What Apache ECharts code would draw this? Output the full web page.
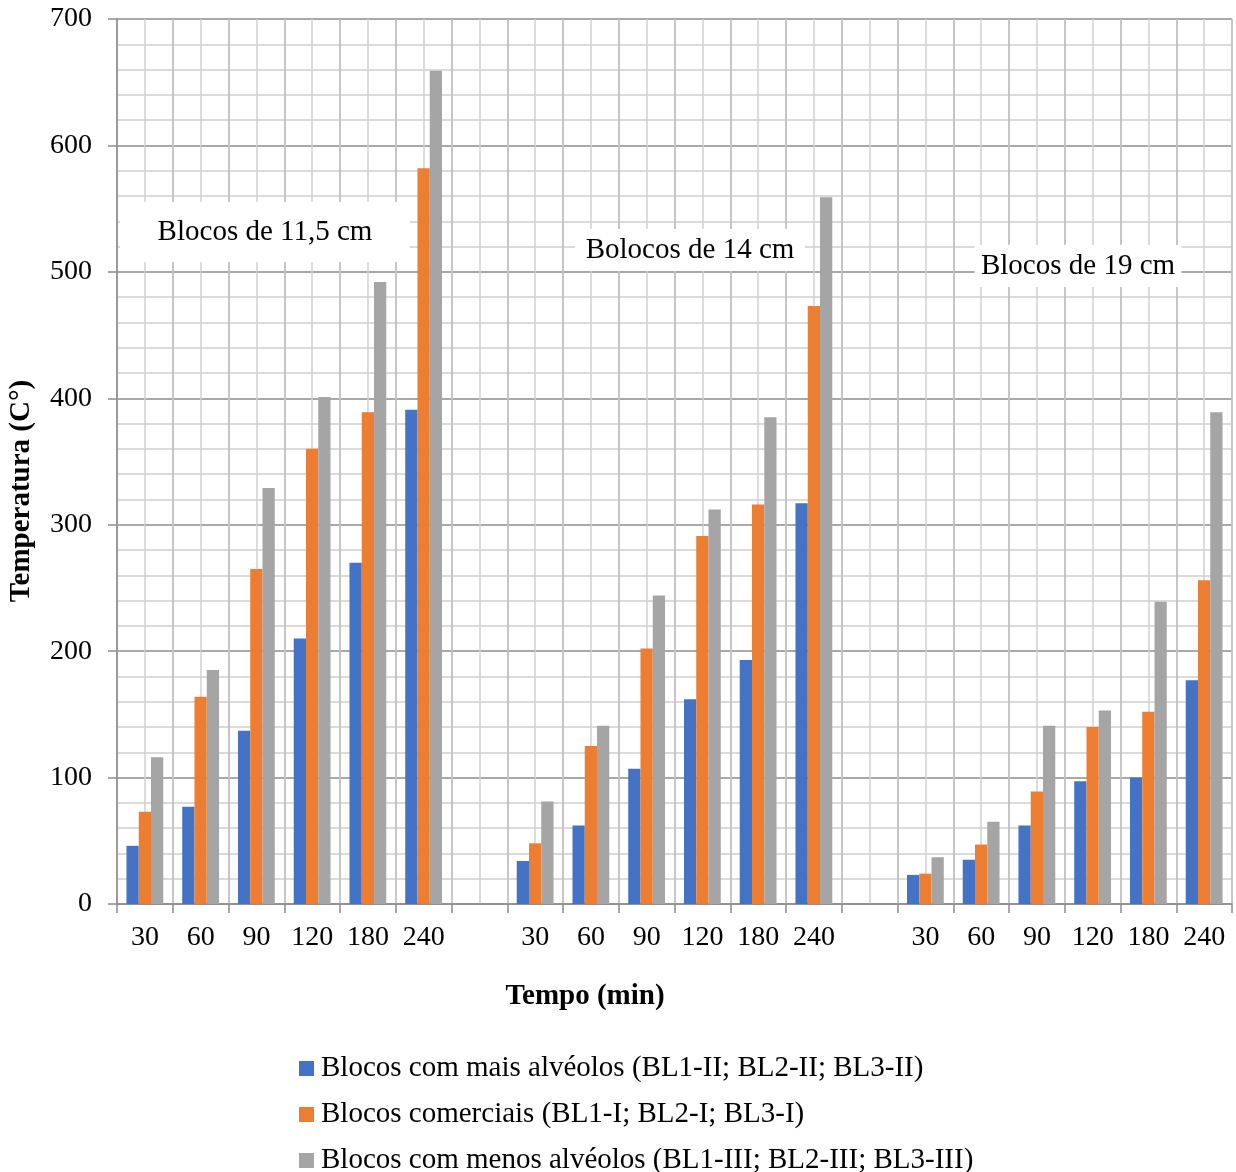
<!DOCTYPE html>
<html>
<head>
<meta charset="utf-8">
<script src="https://cdn.jsdelivr.net/npm/echarts@6/dist/echarts.min.js"></script>
<style>
html,body{margin:0;padding:0;background:#fff;}
#chart{width:1236px;height:1172px;}
</style>
</head>
<body>
<div id="chart"></div>
<script>
const categories = ['30','60','90','120','180','240','', '30','60','90','120','180','240','', '30','60','90','120','180','240'];
const maisAlveolos = [46, 77, 137, 210, 270, 391, null, 34, 62, 107, 162, 193, 317, null, 23, 35, 62, 97, 100, 177];
const comerciais   = [73, 164, 265, 360, 389, 582, null, 48, 125, 202, 291, 316, 473, null, 24, 47, 89, 140, 152, 256];
const menosAlveolos= [116, 185, 329, 401, 492, 659, null, 81, 141, 244, 312, 385, 559, null, 37, 65, 141, 153, 239, 389];
const seriesNames = ['Blocos com mais alvéolos (BL1-II; BL2-II; BL3-II)', 'Blocos comerciais (BL1-I; BL2-I; BL3-I)', 'Blocos com menos alvéolos (BL1-III; BL2-III; BL3-III)'];
const groupLabels = ['Blocos de 11,5 cm', 'Bolocos de 14 cm', 'Blocos de 19 cm'];
const yTicks = {min: 0, max: 700, interval: 100};

const FONT = '"Liberation Serif", "Times New Roman", serif';
const colors = ['#4472C4', '#ED7D31', '#A5A5A5'];

const chart = echarts.init(document.getElementById('chart'));

function box(cx, cy, w, h, txt) {
  return {
    type: 'group',
    children: [
      {type: 'rect', shape: {x: cx - w/2, y: cy - h/2, width: w, height: h}, style: {fill: '#fff'}, z: 10},
      {type: 'text', x: cx, y: cy, style: {text: txt, font: '29px ' + FONT, fill: '#000', textAlign: 'center', textVerticalAlign: 'middle'}, z: 11}
    ]
  };
}

chart.setOption({
  animation: false,
  backgroundColor: '#fff',
  color: colors,
  grid: {left: 117, right: 4, top: 19, bottom: 268, containLabel: false},
  legend: {
    orient: 'vertical', left: 294, top: 1049, height: 200,
    itemWidth: 15, itemHeight: 15, itemGap: 17,
    icon: 'rect',
    textStyle: {fontFamily: FONT, fontSize: 29, lineHeight: 29, color: '#000', padding: [0, 0, 0, 2]},
    data: seriesNames
  },
  xAxis: [{
    type: 'category',
    data: categories,
    boundaryGap: true,
    axisLine: {show: true, lineStyle: {color: '#8c8c8c', width: 1.5}},
    axisTick: {show: true, interval: 0, length: 9, lineStyle: {color: '#8c8c8c', width: 1.5}},
    axisLabel: {interval: 0, margin: 20, fontFamily: FONT, fontSize: 28, color: '#000'},
    splitLine: {show: true, interval: 0, lineStyle: {color: '#8c8c8c', width: 1.5}}
  }, {
    type: 'value',
    min: 0, max: 20, interval: 0.5,
    show: true,
    position: 'bottom',
    axisLine: {show: false}, axisTick: {show: false}, axisLabel: {show: false},
    splitLine: {show: true, lineStyle: {color: '#d0d0d0', width: 1.5}}
  }],
  yAxis: {
    type: 'value',
    min: yTicks.min, max: yTicks.max, interval: yTicks.interval,
    axisLine: {show: true, lineStyle: {color: '#8c8c8c', width: 1.5}},
    axisTick: {show: true, length: 9, lineStyle: {color: '#8c8c8c', width: 1.5}},
    axisLabel: {margin: 25, fontFamily: FONT, fontSize: 28, color: '#000'},
    splitLine: {show: true, lineStyle: {color: '#8c8c8c', width: 1.5}},
    minorTick: {show: false, splitNumber: 5},
    minorSplitLine: {show: true, lineStyle: {color: '#d0d0d0', width: 1.5}}
  },
  series: [
    {name: seriesNames[0], type: 'bar', data: maisAlveolos, barGap: '0%', barCategoryGap: '34%', itemStyle: {color: colors[0]}, z: 5},
    {name: seriesNames[1], type: 'bar', data: comerciais, barGap: '0%', barCategoryGap: '34%', itemStyle: {color: colors[1]}, z: 5},
    {name: seriesNames[2], type: 'bar', data: menosAlveolos, barGap: '0%', barCategoryGap: '34%', itemStyle: {color: colors[2]}, z: 5}
  ],
  graphic: [
    box(265, 232, 290, 60, groupLabels[0]),
    box(690, 250, 230, 42, groupLabels[1]),
    box(1078, 266, 207, 42, groupLabels[2]),
    {type: 'text', x: 585, y: 997, style: {text: 'Tempo (min)', font: 'bold 29px ' + FONT, fill: '#000', textAlign: 'center', textVerticalAlign: 'middle'}},
    {type: 'text', x: 22, y: 491, rotation: Math.PI/2, style: {text: 'Temperatura (C°)', font: 'bold 29px ' + FONT, fill: '#000', textAlign: 'center', textVerticalAlign: 'middle'}}
  ]
});
</script>
</body>
</html>
